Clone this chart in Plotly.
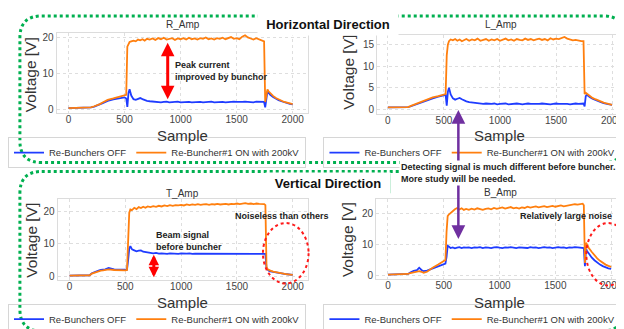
import plotly.graph_objects as go

W, H = 624, 329


def px(x):
    return x / W


def py(y):
    return 1 - y / H


# ---------------- data ----------------
SAMPLES = [0, 50, 100, 150, 180, 200, 230, 260, 280, 300, 320, 350, 400, 450, 500,
           515, 525, 535, 545, 560, 580, 600, 620, 640, 660, 680, 700,
           725, 750, 775, 800, 825, 850, 875, 900, 925, 950, 975, 1000, 1025, 1050,
           1075, 1100, 1125, 1150, 1175, 1200, 1225, 1250, 1275, 1300, 1325, 1350,
           1375, 1400, 1425, 1450, 1475, 1500, 1525, 1550, 1575, 1600, 1625, 1650,
           1675, 1700, 1725,
           1745, 1755, 1765, 1775, 1785, 1800, 1825, 1850, 1875, 1900, 1925, 1950, 1975, 2000]

R_OFF = [0.3, 0.3, 0.35, 0.4, 0.45, 0.5, 0.7, 1.0, 1.3, 1.6, 1.9, 2.3, 2.7, 3.0, 3.3,
         3.0, 0.6, 4.5, 5.6, 3.8, 2.8, 2.6, 2.9, 3.1, 2.8, 2.5, 2.3,
         2.2, 2.1, 2.0, 2.1, 1.9, 2.0, 2.1, 1.9, 2.0, 2.0, 2.1, 1.9, 2.0, 2.1, 2.0, 1.9,
         2.0, 2.1, 2.0, 1.9, 2.0, 2.0, 2.1, 1.9, 2.0, 2.1, 2.0, 1.9, 2.0, 2.0, 2.1, 2.0,
         1.9, 2.0, 2.1, 2.0, 2.0, 1.9, 2.1, 2.0, 2.0,
         2.0, 0.5, 3.5, 5.0, 4.6, 4.0, 3.4, 2.9, 2.5, 2.2, 1.9, 1.7, 1.5, 1.3]
R_ON = [0.3, 0.3, 0.35, 0.4, 0.45, 0.5, 0.8, 1.1, 1.4, 1.8, 2.1, 2.6, 3.0, 3.4, 3.7,
        4.0, 17.5, 18.5, 18.8, 19.0, 19.2, 19.0, 19.5, 19.3, 19.6, 19.2, 19.7,
        19.5, 19.8, 19.4, 19.9, 19.6, 20.0, 19.5, 19.7, 19.9, 19.4, 19.8, 19.6, 19.9,
        19.5, 20.0, 19.6, 19.8, 19.5, 19.9, 19.7, 20.1, 19.6, 19.8, 19.5, 19.9, 19.7,
        20.0, 19.6, 19.8, 20.2, 19.7, 19.9, 19.6, 20.3, 20.7, 20.1, 19.8, 19.5, 19.9,
        19.6, 19.3,
        19.0, 2.0, 4.5, 5.5, 5.0, 4.4, 3.7, 3.1, 2.7, 2.3, 2.0, 1.8, 1.6, 1.4]

L_OFF = [0.4, 0.4, 0.4, 0.4, 0.45, 0.6, 0.9, 1.2, 1.4, 1.6, 1.8, 2.1, 2.5, 2.9, 3.2,
         3.3, 0.8, 4.0, 5.0, 3.4, 2.5, 2.2, 2.4, 2.6, 2.3, 2.0, 1.8,
         1.6, 1.5, 1.4, 1.3, 1.3, 1.2, 1.3, 1.2, 1.2, 1.3, 1.1, 1.2, 1.2, 1.3, 1.1, 1.2,
         1.2, 1.3, 1.2, 1.1, 1.2, 1.3, 1.2, 1.2, 1.1, 1.2, 1.3, 1.2, 1.2, 1.1, 1.2, 1.3,
         1.2, 1.2, 1.3, 1.2, 1.1, 1.2, 1.3, 1.2, 1.2,
         1.3, 0.6, 3.0, 3.3, 3.0, 2.8, 2.4, 2.1, 1.8, 1.6, 1.4, 1.2, 1.1, 1.0]
L_ON = [0.4, 0.4, 0.4, 0.4, 0.45, 0.7, 1.0, 1.3, 1.5, 1.7, 1.9, 2.3, 2.7, 3.0, 3.3,
        3.5, 12.5, 15.0, 15.8, 16.2, 16.0, 16.3, 15.9, 16.2, 15.8, 16.1, 16.3,
        15.9, 16.2, 16.0, 16.4, 15.9, 16.1, 16.3, 15.9, 16.2, 16.0, 16.3, 15.9, 16.1,
        16.4, 16.0, 16.2, 15.9, 16.3, 16.1, 16.0, 16.4, 16.1, 16.3, 16.0, 16.2, 16.4,
        16.1, 16.3, 16.0, 16.5, 16.2, 16.4, 16.3, 16.6, 16.8, 16.4, 16.2, 16.0, 16.1,
        15.9, 15.8,
        15.8, 3.5, 3.8, 3.6, 3.3, 3.0, 2.6, 2.3, 2.0, 1.7, 1.5, 1.3, 1.1, 1.0]

T_OFF = [0.3, 0.3, 0.3, 0.3, 0.4, 1.0, 1.5, 1.8, 2.0, 2.1, 2.2, 2.6, 2.2, 2.1, 2.1,
         2.1, 5.0, 8.5, 9.3, 8.3, 8.0, 7.7, 7.9, 8.0, 7.6, 7.5, 7.3,
         7.3, 7.1, 7.2, 7.0, 7.1, 7.0, 6.9, 7.1, 7.0, 7.0, 6.9, 7.1, 7.0, 7.0, 7.1, 6.9,
         7.0, 7.0, 7.1, 7.0, 6.9, 7.0, 7.1, 7.0, 7.0, 6.9, 7.1, 7.0, 6.9, 7.0, 7.0, 7.1,
         7.0, 6.9, 7.0, 7.1, 7.0, 6.9, 7.0, 7.1, 7.0,
         7.0, 6.9, 2.5, 2.0, 1.8, 1.6, 1.4, 1.2, 1.0, 0.9, 0.8, 0.7, 0.6, 0.5]
T_ON = [0.3, 0.3, 0.3, 0.3, 0.4, 0.9, 1.3, 1.6, 1.8, 1.9, 2.0, 2.2, 2.0, 1.9, 1.9,
        2.0, 15.0, 19.5, 20.5, 20.3, 21.0, 20.6, 21.2, 20.9, 21.3, 21.0, 21.4,
        21.2, 21.5, 21.3, 21.6, 21.4, 21.7, 21.5, 21.8, 21.6, 21.8, 21.7, 21.9, 21.7,
        22.0, 21.8, 22.0, 21.9, 22.1, 21.9, 22.0, 22.1, 21.9, 22.1, 22.0, 22.2, 22.0,
        22.1, 22.2, 22.0, 22.2, 22.1, 22.3, 22.1, 22.2, 22.4, 22.2, 22.3, 22.1, 22.3,
        22.2, 22.1,
        22.1, 21.8, 3.0, 2.2, 2.0, 1.8, 1.5, 1.3, 1.1, 0.9, 0.8, 0.7, 0.6, 0.5]

B_OFF = [0.3, 0.3, 0.3, 0.4, 0.5, 1.0, 1.5, 1.7, 2.5, 1.8, 1.4, 1.6, 2.2, 2.8, 3.5,
         3.8, 6.0, 9.5, 9.3, 8.8, 9.0, 8.7, 8.9, 9.1, 8.8, 9.0, 8.9,
         9.0, 8.8, 9.0, 8.9, 9.1, 8.8, 9.0, 8.9, 8.8, 9.0, 9.1, 8.9, 8.8, 9.0, 8.9, 9.1,
         8.9, 8.8, 9.0, 8.9, 9.0, 8.8, 9.1, 8.9, 9.0, 8.8, 8.9, 9.1, 8.9, 9.0, 8.8, 9.0,
         9.1, 8.9, 9.0, 8.8, 9.0, 8.9, 9.1, 9.0, 8.9,
         9.0, 8.8, 3.0, 8.5, 7.8, 7.0, 5.8, 4.9, 4.1, 3.5, 3.0, 2.6, 2.3, 2.1]
B_ON = [0.3, 0.3, 0.3, 0.4, 0.5, 0.8, 1.1, 1.2, 1.4, 1.2, 0.9, 1.2, 2.5, 3.5, 4.5,
        5.0, 14.0, 19.0, 19.5, 20.0, 20.8, 21.2, 21.6, 21.1, 21.5, 21.0, 21.3,
        21.0, 21.4, 21.1, 21.5, 21.2, 21.0, 21.3, 21.5, 21.2, 21.6, 21.3, 21.5, 21.8,
        21.4, 21.6, 21.9, 21.5, 21.7, 21.4, 21.8, 21.6, 22.0, 21.7, 21.9, 22.1, 21.8,
        22.0, 22.2, 21.9, 22.1, 22.3, 22.0, 22.2, 22.4, 22.1, 22.3, 22.5, 22.6, 22.8,
        22.7, 22.9,
        23.0, 22.5, 4.0, 10.5, 9.6, 8.8, 7.6, 6.5, 5.5, 4.7, 4.0, 3.5, 3.1, 2.8]

TITLES = ["R_Amp", "L_Amp", "T_Amp", "B_Amp"]
SERIES_NAMES = ["Re-Bunchers OFF", "Re-Buncher#1 ON with 200kV"]
X_TICKS = [0, 500, 1000, 1500, 2000]
Y_TICKS = [[0, 10, 20], [0, 5, 10, 15], [0, 10, 20], [0, 10, 20]]

for s in (R_OFF, R_ON, L_OFF, L_ON, T_OFF, T_ON, B_OFF, B_ON):
    assert len(s) == len(SAMPLES), len(s)

# ---------------- layout geometry (pixels) ----------------
FRAMES = [(49, 302, 25, 106), (372, 618, 27, 107), (50, 302, 193, 274), (371, 615, 193, 273)]
XRANGES = [(-106, 2133), (-97, 2080), (-107, 2133), (-107, 2062)]
YRANGES = [(-1.1, 21.4), (-1.15, 17.3), (-0.9, 23.6), (-0.95, 24.4)]
TITLE_POS = [(176, 17), (497, 17), (176, 187), (496, 186)]
YLAB_POS = [(23, 67), (343, 65), (24, 234), (343, 234)]
XLAB_POS = [(176, 129), (495, 129), (176, 297), (495, 297)]
LEG_POS = [(0, 146), (318, 146), (0, 314), (318, 314)]

BLUE = "#1f3cff"
ORANGE = "#ff7f0e"
FONT = "Liberation Sans"

fig = go.Figure()
data = [(R_OFF, R_ON), (L_OFF, L_ON), (T_OFF, T_ON), (B_OFF, B_ON)]
layout = dict(
    width=W, height=H, margin=dict(l=0, r=0, t=0, b=0),
    paper_bgcolor="white", plot_bgcolor="white",
    font=dict(family=FONT, color="#333"),
)
annotations = []
shapes = []


def label(text, x, y, size, color="#333", angle=0, **kw):
    d = dict(text=text, x=px(x), y=py(y), xref="paper", yref="paper", showarrow=False,
             xanchor="center", yanchor="middle", textangle=angle,
             font=dict(size=size, color=color, family=FONT))
    d.update(kw)
    return d


for i, (off, on) in enumerate(data):
    n = "" if i == 0 else str(i + 1)
    leg = "legend" + n
    fig.add_trace(go.Scatter(x=SAMPLES, y=off, mode="lines", name=SERIES_NAMES[0],
                             line=dict(color=BLUE, width=1.8), xaxis="x" + n, yaxis="y" + n,
                             legend=leg))
    fig.add_trace(go.Scatter(x=SAMPLES, y=on, mode="lines", name=SERIES_NAMES[1],
                             line=dict(color=ORANGE, width=1.8), xaxis="x" + n, yaxis="y" + n,
                             legend=leg))
    l, r, t, b = FRAMES[i]
    axcommon = dict(showgrid=True, gridcolor="#dedede", griddash="dot", gridwidth=1,
                    showline=True, linecolor="#dcdcdc", linewidth=1, mirror=True,
                    zeroline=False, ticks="", tickfont=dict(size=10, color="#444", family=FONT))
    layout["xaxis" + n] = dict(domain=[px(l), px(r)], anchor="y" + n, range=list(XRANGES[i]),
                               tickvals=X_TICKS, ticklabelstandoff=-3, **axcommon)
    layout["yaxis" + n] = dict(domain=[py(b), py(t)], anchor="x" + n, range=list(YRANGES[i]),
                               tickvals=Y_TICKS[i], **axcommon)
    lx, ly = LEG_POS[i]
    layout[leg] = dict(orientation="h", x=px(lx), y=py(ly), xanchor="left", yanchor="middle",
                       font=dict(size=9.5, family=FONT, color="#333"),
                       bgcolor="rgba(255,255,255,0)", bordercolor="#d6d6d6", borderwidth=1,
                       itemwidth=30, tracegroupgap=0)
    tx, ty = TITLE_POS[i]
    annotations.append(label(TITLES[i], tx, ty, 10))
    yx, yy = YLAB_POS[i]
    annotations.append(label("Voltage [V]", yx, yy, 15.5, angle=-90))
    xx, xy = XLAB_POS[i]
    annotations.append(label("Sample", xx, xy, 15))

GREEN = "#00b050"


def rounded_path(x0, y0, x1, y1, r):
    X0, X1 = px(x0), px(x1)
    Y0, Y1 = py(y0), py(y1)
    rx, ry = r / W, r / H
    return (f"M {X0 + rx},{Y0} L {X1 - rx},{Y0} Q {X1},{Y0} {X1},{Y0 - ry} "
            f"L {X1},{Y1 + ry} Q {X1},{Y1} {X1 - rx},{Y1} L {X0 + rx},{Y1} "
            f"Q {X0},{Y1} {X0},{Y1 + ry} L {X0},{Y0 - ry} Q {X0},{Y0} {X0 + rx},{Y0} Z")


shapes.append(dict(type="path", path=rounded_path(12, 8, 622, 156, 22), xref="paper", yref="paper",
                   line=dict(color=GREEN, width=3, dash="dot"), layer="below"))
shapes.append(dict(type="path", path=rounded_path(12, 165, 621, 326, 22), xref="paper", yref="paper",
                   line=dict(color=GREEN, width=3, dash="dot"), layer="below"))

# red dotted ellipses
shapes.append(dict(type="circle", xref="paper", yref="paper", x0=px(257), x1=px(303),
                   y0=py(278), y1=py(217), line=dict(color="#ff1a1a", width=2, dash="dot")))
shapes.append(dict(type="circle", xref="paper", yref="paper", x0=px(583), x1=px(627),
                   y0=py(280), y1=py(217), line=dict(color="#ff1a1a", width=2, dash="dot")))

# arrows
PURPLE = "#7030a0"
annotations.append(dict(text="", x=px(454), y=py(103), xref="paper", yref="paper", showarrow=True,
                        ax=0, ay=60, arrowhead=2, arrowsize=1.1, arrowwidth=2.5, arrowcolor=PURPLE))
annotations.append(dict(text="", x=px(454), y=py(233), xref="paper", yref="paper", showarrow=True,
                        ax=0, ay=-72, arrowhead=2, arrowsize=1.1, arrowwidth=2.5, arrowcolor=PURPLE))
annotations.append(dict(text="", x=px(161), y=py(35), xref="paper", yref="paper", showarrow=True,
                        ax=0, ay=58, arrowhead=2, startarrowhead=2, arrowside="end+start",
                        arrowsize=0.9, startarrowsize=0.9, arrowwidth=3, arrowcolor="#ff0000"))
annotations.append(dict(text="", x=px(147), y=py(249), xref="paper", yref="paper", showarrow=True,
                        ax=0, ay=24, arrowhead=2, startarrowhead=2, arrowside="end+start",
                        arrowsize=0.7, startarrowsize=0.7, arrowwidth=3, arrowcolor="#ff0000"))

# text notes
NOTE_FONT = dict(size=9, color="#222", family=FONT)
annotations.append(dict(text="<b>Peak current<br>improved by bunchor</b>", x=px(166), y=py(64),
                        xref="paper", yref="paper", xanchor="left", yanchor="middle", align="left",
                        showarrow=False, font=NOTE_FONT))
annotations.append(dict(text="<b>Beam signal<br>before buncher</b>", x=px(147), y=py(235),
                        xref="paper", yref="paper", xanchor="left", yanchor="middle", align="left",
                        showarrow=False, font=NOTE_FONT))
annotations.append(dict(text="<b>Noiseless than others</b>", x=px(227), y=py(210),
                        xref="paper", yref="paper", xanchor="left", yanchor="middle",
                        showarrow=False, font=NOTE_FONT))
annotations.append(dict(text="<b>Relatively large noise</b>", x=px(514), y=py(210),
                        xref="paper", yref="paper", xanchor="left", yanchor="middle",
                        showarrow=False, font=NOTE_FONT))
annotations.append(dict(text="<b>Detecting signal is much different before buncher.<br>More study will be needed.</b>",
                        x=px(394), y=py(167), xref="paper", yref="paper", xanchor="left",
                        yanchor="middle", align="left", showarrow=False, bgcolor="white",
                        font=NOTE_FONT))

# section labels
annotations.append(label("<b>Horizontal Direction</b>", 323, 17, 13, color="#111",
                         bgcolor="white", width=134, borderpad=3))
annotations.append(label("<b>Vertical Direction</b>", 323, 177, 13, color="#111",
                         bgcolor="white", width=118, borderpad=3))
shapes.append(dict(type="line", xref="paper", yref="paper", x0=px(263), x1=px(385), y0=py(167),
                   y1=py(167), line=dict(color=GREEN, width=1, dash="dash")))
shapes.append(dict(type="line", xref="paper", yref="paper", x0=px(385), x1=px(385), y0=py(167),
                   y1=py(187), line=dict(color=GREEN, width=1)))

layout["annotations"] = annotations
layout["shapes"] = shapes
fig.update_layout(**layout)
fig.write_html("out.html")
